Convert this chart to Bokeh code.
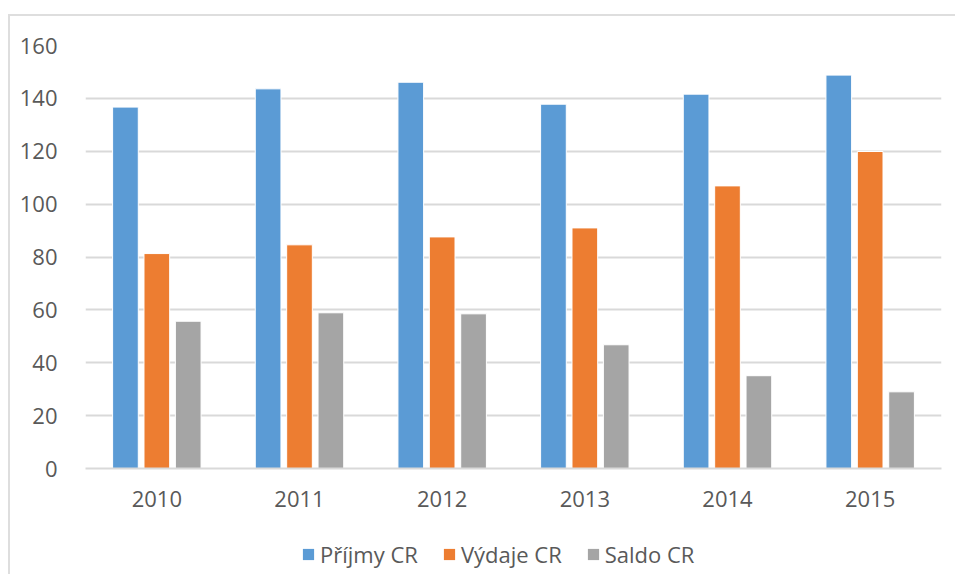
from bokeh.plotting import figure
from bokeh.models import ColumnDataSource, FactorRange, Legend, LegendItem, FixedTicker
from bokeh.layouts import column
from bokeh.transform import dodge
from bokeh.embed import file_html
from bokeh.resources import INLINE

years = ["2010", "2011", "2012", "2013", "2014", "2015"]
prijmy = [136.7, 143.6, 146.1, 137.8, 141.6, 148.8]
vydaje = [81.3, 84.6, 87.6, 91.0, 106.9, 119.9]
saldo = [55.7, 58.9, 58.5, 46.8, 35.1, 29.0]
series_names = ["Příjmy CR", "Výdaje CR", "Saldo CR"]
y_ticks = [0, 20, 40, 60, 80, 100, 120, 140, 160]

colors = ["#5B9BD5", "#ED7D31", "#A5A5A5"]
FONT = "Open Sans"
TXT = "#595959"
GRID = "#D9D9D9"
FS = "22px"

src = ColumnDataSource(data=dict(year=years, prijmy=prijmy, vydaje=vydaje, saldo=saldo))

p = figure(x_range=FactorRange(*years, range_padding=0), y_range=(0, 160),
           width=945, height=502, output_backend="svg", toolbar_location=None,
           min_border_left=75, min_border_right=14, min_border_top=29, min_border_bottom=50)

for key, off, col in zip(["prijmy", "vydaje", "saldo"], [-0.22, 0.0, 0.22], colors):
    p.vbar(x=dodge("year", off, range=p.x_range), top=key, width=0.18, source=src,
           fill_color=col, line_color="white", line_width=1)

p.outline_line_color = None
p.xgrid.grid_line_color = None
p.ygrid.grid_line_color = GRID
p.ygrid.grid_line_width = 2
p.yaxis.ticker = FixedTicker(ticks=y_ticks)

p.yaxis.axis_line_color = None
p.yaxis.major_tick_line_color = None
p.yaxis.minor_tick_line_color = None
p.yaxis.major_label_standoff = 22
p.xaxis.axis_line_color = GRID
p.xaxis.axis_line_width = 2
p.xaxis.major_tick_line_color = None
p.xaxis.minor_tick_line_color = None
p.xaxis.major_label_standoff = 16
for ax in (p.xaxis, p.yaxis):
    ax.major_label_text_font = FONT
    ax.major_label_text_font_size = FS
    ax.major_label_text_color = TXT

# legend strip below the chart (its frame is aligned with the chart frame by the column)
q = figure(width=945, height=56, output_backend="svg", toolbar_location=None,
           min_border=0, x_range=(0, 1), y_range=(0, 1))
q.axis.visible = False
q.grid.grid_line_color = None
q.outline_line_color = None
# hidden stand-in glyphs (outside the visible range) that only carry the legend colours
leg_renderers = [q.vbar(x=[-5], top=[-5], width=0.1, fill_color=c, line_color=None) for c in colors]
legend = Legend(items=[LegendItem(label=n, renderers=[r]) for n, r in zip(series_names, leg_renderers)],
                orientation="horizontal", location=(216, 5), padding=0, margin=0,
                spacing=24, glyph_width=14, glyph_height=14, label_standoff=5,
                label_text_font=FONT, label_text_font_size=FS, label_text_color=TXT,
                background_fill_alpha=0, border_line_color=None)
q.add_layout(legend, "center")

layout = column(p, q, spacing=0)
layout.margin = (14, 0, 0, 8)
layout.styles = {"border-left": "2px solid #DEDEDE", "border-top": "2px solid #DEDEDE"}

open("out.html", "w").write(file_html(layout, INLINE))
